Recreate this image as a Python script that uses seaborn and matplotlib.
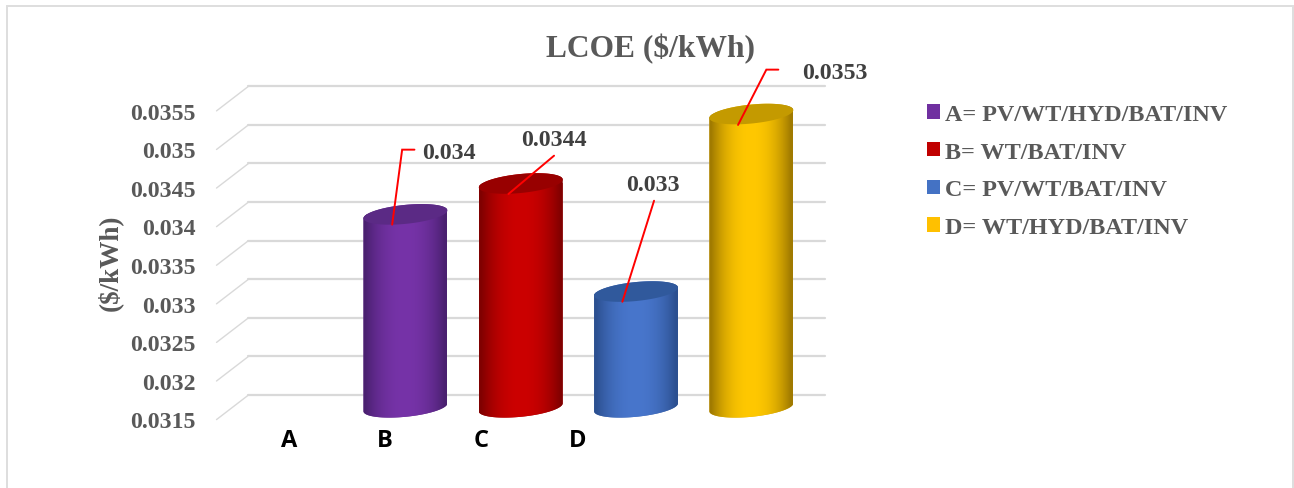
import matplotlib
matplotlib.use("Agg")
import matplotlib.pyplot as plt
import numpy as np
import pandas as pd
import seaborn as sns
from matplotlib.colors import to_rgb
from matplotlib.patches import Patch, PathPatch, Rectangle
from matplotlib.path import Path
from matplotlib.transforms import ScaledTranslation

W, H = 1294, 489
DPI = 100

# The first slot on the category axis stays empty, so the cylinders sit one slot to the right
slots = ["", "A", "B", "C", "D"]
lcoe = [np.nan, 0.034, 0.0344, 0.033, 0.0353]
value_labels = ["", "0.034", "0.0344", "0.033", "0.0353"]
legend_labels = ["A= PV/WT/HYD/BAT/INV", "B= WT/BAT/INV", "C= PV/WT/BAT/INV", "D= WT/HYD/BAT/INV"]
face_colors = ["#7030a0", "#7030a0", "#c00000", "#4472c4", "#ffc000"]
shine_colors = ["#7633a8", "#7633a8", "#cc0000", "#4876cc", "#ffc800"]
edge_colors = ["#4a2070", "#4a2070", "#800000", "#2c5090", "#a07a00"]
cap_colors = ["#5b2a85", "#5b2a85", "#980000", "#30599c", "#c49a00"]
y_ticks = [0.0315, 0.032, 0.0325, 0.033, 0.0335, 0.034, 0.0345, 0.035, 0.0355]
y_tick_labels = ["0.0315", "0.032", "0.0325", "0.033", "0.0335", "0.034", "0.0345", "0.035", "0.0355"]
x_tick_pos = [-0.01, 0.823, 1.655, 2.49]
x_tick_labels = ["A", "B", "C", "D"]

# Leader geometry per bar, in pixels from the centre of the cylinder's top
leaders = {
    1: ([(-13.3, -10.3), (-3.3, 64.7), (9, 64.7)], (43, 62)),
    2: ([(-12.3, -10.5), (33.3, 27.8)], (33, 44)),
    3: ([(-13.7, -10.2), (18, 90.8)], (17, 107)),
    4: ([(-13.3, -10.9), (15, 44.4), (27, 44.4)], (84, 42)),
}

SERIF = "Liberation Serif"
GREY = "#595959"
DARK = "#404040"

sns.set_theme(style="white")
fig = plt.figure(figsize=(W / DPI, H / DPI), dpi=DPI, facecolor="white")

left, right, top, bottom = 232.5, 809.0, 99.6, 408.3
ax = fig.add_axes([left / W, 1 - bottom / H, (right - left) / W, (bottom - top) / H])

df = pd.DataFrame({"slot": slots, "lcoe": lcoe})
sns.barplot(data=df, x="slot", y="lcoe", hue="slot", palette=face_colors,
            width=0.728, legend=False, ax=ax, zorder=3)
ax.set_xlim(-0.5, 4.5)
ax.set_ylim(0.0315, 0.0355)
for s in ax.spines.values():
    s.set_visible(False)

px_x = (right - left) / 5
px_y = (bottom - top) / (0.0355 - 0.0315)


def to_data(xc, yc, dx, dy):
    return xc + dx / px_x, yc + dy / px_y


# Receding floor lines and back-wall gridlines
depth_x, depth_y = 16.0, 12.3
for v in y_ticks:
    x0, y0 = to_data(-0.5, v, -depth_x, -depth_y)
    x1, y1 = to_data(-0.5, v, depth_x, depth_y)
    x2, _ = to_data(4.5, v, depth_x, depth_y)
    ax.plot([x0, x1], [y0, y1], color="#d9d9d9", lw=1.0, clip_on=False, zorder=1)
    ax.plot([x1, x2], [y1, y1], color="#d9d9d9", lw=1.6, clip_on=False, zorder=1)

# Cylinder shading: the seaborn bars are cut to a sheared cylinder outline
ELL_B = 9.5     # half-height of the elliptical ends, px
SHEAR = 0.095   # rise of the ends per px towards the right


def ellipse(xc, yc, half_w, t):
    xs = half_w * np.cos(t)
    ys = ELL_B * np.sin(t) + SHEAR * xs
    return xc + xs / px_x, yc + ys / px_y


bars = [p for p in ax.patches if p.get_height() == p.get_height() and p.get_height() > 0]
bars = sorted(bars, key=lambda p: p.get_x())
for patch in bars:
    xc = patch.get_x() + patch.get_width() / 2
    idx = int(round(xc))
    value = patch.get_height()
    half_w = patch.get_width() / 2 * px_x

    # outline: lower half of the bottom end plus the upper half of the top end
    t_low = np.linspace(np.pi, 2 * np.pi, 60)
    t_up = np.linspace(0, np.pi, 60)
    bx, by = ellipse(xc, 0.0315, half_w, t_low)
    tx, ty = ellipse(xc, value, half_w, t_up)
    verts = np.column_stack([np.r_[bx, tx, bx[0]], np.r_[by, ty, by[0]]])
    outline = PathPatch(Path(verts), transform=ax.transData, fc="none", ec="none")
    ax.add_patch(outline)
    patch.set_edgecolor("none")
    patch.set_clip_path(outline)
    patch.set_clip_box(None)

    edge = np.array(to_rgb(edge_colors[idx]))
    face = np.array(to_rgb(shine_colors[idx]))
    ramp = np.linspace(-1, 1, 256)
    weight = np.clip(np.abs(ramp) / 0.95, 0, 1) ** 2.2
    img = (face[None, :] * (1 - weight[:, None]) + edge[None, :] * weight[:, None])[None, :, :]
    im = ax.imshow(img, extent=(xc - patch.get_width() / 2, xc + patch.get_width() / 2,
                                0.0312, value + 0.0002),
                   aspect="auto", zorder=4, interpolation="bilinear")
    # the image must be allowed past the axes box so the rounded foot shows
    im.set_clip_box(fig.bbox)
    im.set_clip_path(outline)

    # top end seen from above
    t_all = np.linspace(0, 2 * np.pi, 120)
    cx, cy = ellipse(xc, value, half_w, t_all)
    ax.fill(cx, cy, color=cap_colors[idx], lw=0, zorder=5, clip_on=False)

    # value label and red leader
    points, label_at = leaders[idx]
    line = [to_data(xc, value, *p) for p in points]
    ax.plot(*zip(*line), color="#ff0000", lw=1.4, clip_on=False, zorder=6,
            solid_joinstyle="miter")
    lx, ly = to_data(xc, value, *label_at)
    ax.text(lx, ly, value_labels[idx], ha="center", va="center", family=SERIF,
            fontweight="bold", fontsize=17.2, color=DARK, clip_on=False, zorder=7)

ax.set_xlim(-0.5, 4.5)
ax.set_ylim(0.0315, 0.0355)

# Axis labelling, shifted to the front of the floor
ax.set_yticks(y_ticks, y_tick_labels, family=SERIF, fontweight="bold", fontsize=17.2, color=GREY)
ax.tick_params(axis="y", length=0, pad=26.7)
shift = ScaledTranslation(0, -12 / DPI, fig.dpi_scale_trans)
for lab in ax.get_yticklabels():
    lab.set_transform(lab.get_transform() + shift)
ax.set_xticks(x_tick_pos, x_tick_labels, family="Open Sans", fontweight="bold", fontsize=17, color="black")
ax.tick_params(axis="x", length=0, pad=15.2)
ax.set_xlabel("")
ax.set_ylabel("")
fig.text(110 / W, 1 - 263 / H, "($/kWh)", rotation=90, ha="center", va="center",
         family=SERIF, fontweight="bold", fontsize=19.5, color=GREY)

fig.text(650 / W, 1 - 49 / H, "LCOE ($/kWh)", ha="center", va="center",
         family=SERIF, fontweight="bold", fontsize=22.7, color=GREY)

handles = [Patch(fc=c, ec="none") for c in face_colors[1:]]
fig.legend(handles, legend_labels, loc="upper left", bbox_to_anchor=(927 / W, 1 - 105 / H),
           frameon=False, handlelength=0.54, handleheight=0.54, handletextpad=0.2,
           labelspacing=0.69, borderpad=0, borderaxespad=0,
           prop={"family": SERIF, "weight": "bold", "size": 17.4}, labelcolor=GREY)

# Chart frame, open at the bottom edge of the figure
fig.add_artist(Rectangle((7 / W, -2 / H), (1293 - 7) / W, (H + 2 - 7) / H,
                         transform=fig.transFigure, fc="none", ec="#dedede", lw=1.4))

fig.savefig("out.png", dpi=DPI, facecolor="white")
